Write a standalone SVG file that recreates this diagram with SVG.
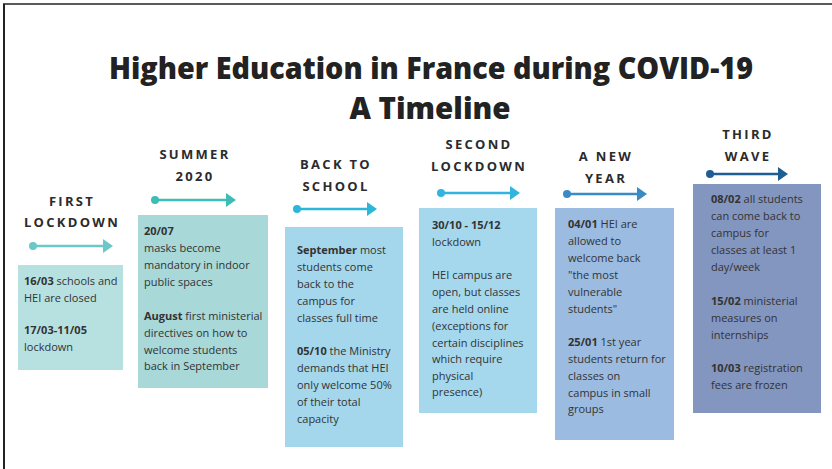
<svg xmlns="http://www.w3.org/2000/svg" width="832" height="469" viewBox="0 0 832 469">
<style>
.title{font-family:"Open Sans","Liberation Sans",sans-serif;font-weight:800;font-size:29.5px;fill:#222;text-anchor:middle}
.hd{font-family:"Open Sans","Liberation Sans",sans-serif;font-weight:700;font-size:13px;letter-spacing:2.3px;fill:#2b2b2b;text-anchor:middle}
.tx{font-family:"Open Sans","Liberation Sans",sans-serif;font-size:11px;fill:#333}
.b{font-weight:700}
</style>
<rect x="0" y="0" width="832" height="469" fill="#fff"/>
<line x1="3" y1="4" x2="832" y2="4" stroke="#5a5a5a" stroke-width="2"/>
<line x1="4" y1="4" x2="4" y2="469" stroke="#222" stroke-width="2"/>
<text class="title" x="431" y="79" textLength="644" lengthAdjust="spacingAndGlyphs">Higher Education in France during COVID-19</text>
<text class="title" x="430" y="119">A Timeline</text>

<g id="connectors">
<g fill="#6cc8c8" stroke="#6cc8c8"><circle cx="33" cy="246" r="4" stroke="none"/><line x1="33" y1="246" x2="104" y2="246" stroke-width="2.7"/><polygon points="103,239 113,246 103,253" stroke="none"/></g>
<g fill="#3cbdb5" stroke="#3cbdb5"><circle cx="155" cy="200" r="4" stroke="none"/><line x1="155" y1="200" x2="227" y2="200" stroke-width="2.7"/><polygon points="226,193 236,200 226,207" stroke="none"/></g>
<g fill="#2cb6da" stroke="#2cb6da"><circle cx="297" cy="209" r="4" stroke="none"/><line x1="297" y1="209" x2="368" y2="209" stroke-width="2.7"/><polygon points="367,202 377,209 367,216" stroke="none"/></g>
<g fill="#33b4de" stroke="#33b4de"><circle cx="441" cy="193" r="4" stroke="none"/><line x1="441" y1="193" x2="511" y2="193" stroke-width="2.7"/><polygon points="510,186 520,193 510,200" stroke="none"/></g>
<g fill="#3a8ac6" stroke="#3a8ac6"><circle cx="567" cy="194" r="4" stroke="none"/><line x1="567" y1="194" x2="638" y2="194" stroke-width="2.7"/><polygon points="637,187 647,194 637,201" stroke="none"/></g>
<g fill="#1f5e93" stroke="#1f5e93"><circle cx="710" cy="174" r="4" stroke="none"/><line x1="710" y1="174" x2="779" y2="174" stroke-width="2.7"/><polygon points="778,167 788,174 778,181" stroke="none"/></g>
</g>

<g id="first-lockdown">
<text class="hd" x="72" y="206">FIRST</text>
<text class="hd" x="72" y="227">LOCKDOWN</text>
<rect x="18" y="265" width="105" height="105" fill="#b7e1e1"/>
<text class="tx" x="24" y="285"><tspan class="b">16/03</tspan> schools and</text>
<text class="tx" x="24" y="301.7">HEI are closed</text>
<text class="tx" x="24" y="334"><tspan class="b">17/03-11/05</tspan></text>
<text class="tx" x="24" y="351">lockdown</text>
</g>

<g id="summer-2020">
<text class="hd" x="195" y="159">SUMMER</text>
<text class="hd" x="195" y="181">2020</text>
<rect x="138" y="215" width="130" height="173" fill="#a8d8d8"/>
<text class="tx" x="144" y="235"><tspan class="b">20/07</tspan></text>
<text class="tx" x="144" y="252">masks become</text>
<text class="tx" x="144" y="269">mandatory in indoor</text>
<text class="tx" x="144" y="286">public spaces</text>
<text class="tx" x="144" y="320"><tspan class="b">August</tspan> first ministerial</text>
<text class="tx" x="144" y="337">directives on how to</text>
<text class="tx" x="144" y="354">welcome students</text>
<text class="tx" x="144" y="370">back in September</text>
</g>

<g id="back-to-school">
<text class="hd" x="336" y="169">BACK TO</text>
<text class="hd" x="336" y="191">SCHOOL</text>
<rect x="285" y="227" width="118" height="220" fill="#a4d7eb"/>
<text class="tx" x="297" y="254"><tspan class="b">September</tspan> most</text>
<text class="tx" x="297" y="271">students come</text>
<text class="tx" x="297" y="288">back to the</text>
<text class="tx" x="297" y="305">campus for</text>
<text class="tx" x="297" y="321.7">classes full time</text>
<text class="tx" x="297" y="355"><tspan class="b">05/10</tspan> the Ministry</text>
<text class="tx" x="297" y="372">demands that HEI</text>
<text class="tx" x="297" y="389">only welcome 50%</text>
<text class="tx" x="297" y="406">of their total</text>
<text class="tx" x="297" y="422.7">capacity</text>
</g>

<g id="second-lockdown">
<text class="hd" x="479" y="149">SECOND</text>
<text class="hd" x="479" y="171">LOCKDOWN</text>
<rect x="419" y="208" width="118" height="205" fill="#a5d8ed"/>
<text class="tx" x="432" y="229"><tspan class="b">30/10 - 15/12</tspan></text>
<text class="tx" x="432" y="246">lockdown</text>
<text class="tx" x="432" y="279">HEI campus are</text>
<text class="tx" x="432" y="296">open, but classes</text>
<text class="tx" x="432" y="313">are held online</text>
<text class="tx" x="432" y="330">(exceptions for</text>
<text class="tx" x="432" y="347">certain disciplines</text>
<text class="tx" x="432" y="363">which require</text>
<text class="tx" x="432" y="380">physical</text>
<text class="tx" x="432" y="396">presence)</text>
</g>

<g id="a-new-year">
<text class="hd" x="606" y="161">A NEW</text>
<text class="hd" x="606" y="183">YEAR</text>
<rect x="555" y="208" width="119" height="232" fill="#9bbbe0"/>
<text class="tx" x="568" y="228"><tspan class="b">04/01</tspan> HEI are</text>
<text class="tx" x="568" y="245">allowed to</text>
<text class="tx" x="568" y="262">welcome back</text>
<text class="tx" x="568" y="279">"the most</text>
<text class="tx" x="568" y="296">vulnerable</text>
<text class="tx" x="568" y="313">students"</text>
<text class="tx" x="568" y="346"><tspan class="b">25/01</tspan>  1st year</text>
<text class="tx" x="568" y="363">students return for</text>
<text class="tx" x="568" y="380">classes on</text>
<text class="tx" x="568" y="397">campus in small</text>
<text class="tx" x="568" y="413">groups</text>
</g>

<g id="third-wave">
<text class="hd" x="748" y="139">THIRD</text>
<text class="hd" x="748" y="161">WAVE</text>
<rect x="693" y="184" width="128" height="229" fill="#8396bf"/>
<text class="tx" x="711" y="203"><tspan class="b">08/02</tspan> all students</text>
<text class="tx" x="711" y="220">can come back to</text>
<text class="tx" x="711" y="237">campus for</text>
<text class="tx" x="711" y="254">classes at least 1</text>
<text class="tx" x="711" y="271">day/week</text>
<text class="tx" x="711" y="305"><tspan class="b">15/02</tspan> ministerial</text>
<text class="tx" x="711" y="322">measures on</text>
<text class="tx" x="711" y="339">internships</text>
<text class="tx" x="711" y="372"><tspan class="b">10/03</tspan> registration</text>
<text class="tx" x="711" y="389">fees are frozen</text>
</g>
</svg>
